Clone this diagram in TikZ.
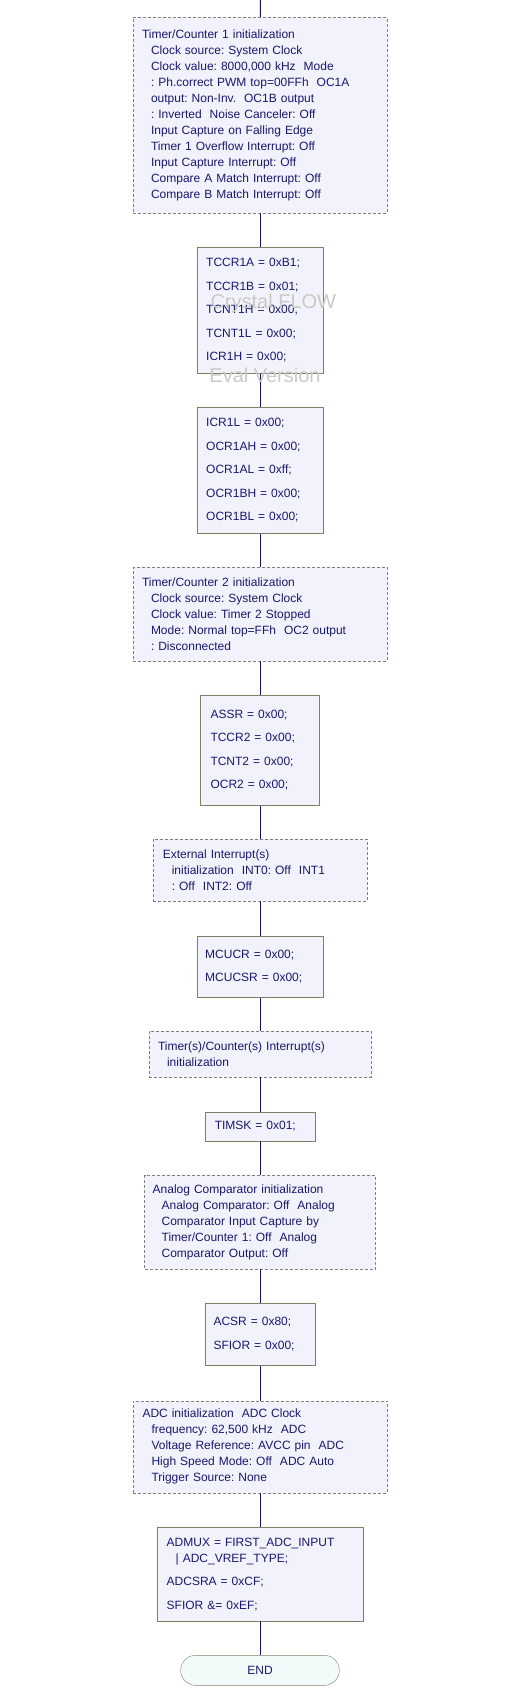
\documentclass[tikz,border=0pt]{standalone}
\usepackage{fontspec}
\setmainfont{Liberation Sans}
\definecolor{boxfill}{RGB}{242,242,252}
\definecolor{endfill}{RGB}{242,250,250}
\definecolor{dashgray}{RGB}{128,128,128}
\definecolor{boxolive}{RGB}{128,128,104}
\definecolor{textnavy}{RGB}{24,24,112}
\definecolor{linenavy}{RGB}{16,16,100}
\definecolor{markgray}{RGB}{204,200,196}
\newcommand{\tabin}{\hspace*{9pt}}
\begin{document}
\frenchspacing
\begin{tikzpicture}[x=1pt,y=-1pt,
    flowline/.style={draw=linenavy, line width=1pt},
    infobox/.style={draw=dashgray, dash pattern=on 3pt off 2pt, fill=boxfill,
        text=textnavy, align=left, inner xsep=9pt, inner ysep=0pt,
        font=\fontsize{12}{16}\selectfont\frenchspacing},
    codebox/.style={draw=boxolive, fill=boxfill, text=textnavy, align=left,
        inner xsep=9pt, inner ysep=0pt, font=\fontsize{12}{16}\selectfont\frenchspacing},
    endbox/.style={draw=boxolive, fill=endfill, text=textnavy, rounded corners=15pt,
        minimum width=158.7pt, minimum height=30pt, font=\fontsize{12}{16}\selectfont},
    watermark/.style={text=markgray, font=\fontsize{20}{24}\selectfont}]
    \useasboundingbox (0,0) rectangle (519,1700);
    \coordinate (start) at (260.5,0);

    % timer 1
    \node[infobox, minimum width=254pt, minimum height=195.4pt, text width=236pt]
        (t1info) at (260,115) {Timer/Counter 1 initialization\\
        \tabin Clock source: System Clock\\
        \tabin Clock value: 8000,000 kHz~ Mode\\
        \tabin : Ph.correct PWM top=00FFh~ OC1A\\
        \tabin output: Non-Inv.~ OC1B output\\
        \tabin : Inverted~ Noise Canceler: Off\\
        \tabin Input Capture on Falling Edge\\
        \tabin Timer 1 Overflow Interrupt: Off\\
        \tabin Input Capture Interrupt: Off\\
        \tabin Compare A Match Interrupt: Off\\
        \tabin Compare B Match Interrupt: Off};
    \node[codebox, minimum width=125.6pt, minimum height=126pt, text width=107.6pt]
        (t1regA) at (260,310.3) {TCCR1A = 0xB1;\\[7.5pt] TCCR1B = 0x01;\\[7.5pt]
        TCNT1H = 0x00;\\[7.5pt] TCNT1L = 0x00;\\[7.5pt] ICR1H = 0x00;};
    \node[codebox, minimum width=125.6pt, minimum height=126pt, text width=107.6pt]
        (t1regB) at (260,470.3) {ICR1L = 0x00;\\[7.5pt] OCR1AH = 0x00;\\[7.5pt]
        OCR1AL = 0xff;\\[7.5pt] OCR1BH = 0x00;\\[7.5pt] OCR1BL = 0x00;};

    % timer 2
    \node[infobox, minimum width=254pt, minimum height=93.7pt, text width=236pt]
        (t2info) at (260,614.2) {Timer/Counter 2 initialization\\
        \tabin Clock source: System Clock\\
        \tabin Clock value: Timer 2 Stopped\\
        \tabin Mode: Normal top=FFh~ OC2 output\\
        \tabin : Disconnected};
    \node[codebox, minimum width=118.4pt, minimum height=110pt, text width=99pt,
        inner xsep=10pt] (t2reg) at (260,750.3) {ASSR = 0x00;\\[7.5pt]
        TCCR2 = 0x00;\\[7.5pt] TCNT2 = 0x00;\\[7.5pt] OCR2 = 0x00;};

    % external interrupts
    \node[infobox, minimum width=214.4pt, minimum height=61.4pt, text width=194.4pt,
        inner xsep=10pt] (extint) at (260,870) {External Interrupt(s)\\
        \tabin initialization~ INT0: Off~ INT1\\
        \tabin : Off~ INT2: Off};
    \node[codebox, minimum width=125.6pt, minimum height=61.6pt, text width=109.6pt,
        inner xsep=8pt] (mcureg) at (260,966.5) {MCUCR = 0x00;\\[7.5pt] MCUCSR = 0x00;};

    % timer interrupts
    \node[infobox, minimum width=222pt, minimum height=46pt, text width=204pt]
        (timint) at (260,1054) {Timer(s)/Counter(s) Interrupt(s)\\
        \tabin initialization};
    \node[codebox, minimum width=109.6pt, minimum height=29.3pt, text width=90.4pt,
        inner xsep=9.6pt] (timsk) at (260,1126.4) {TIMSK = 0x01;};

    % analog comparator
    \node[infobox, minimum width=230.7pt, minimum height=93.7pt, text width=214.7pt,
        inner xsep=8pt] (acinfo) at (260,1222.2) {Analog Comparator initialization\\
        \tabin Analog Comparator: Off~ Analog\\
        \tabin Comparator Input Capture by\\
        \tabin Timer/Counter 1: Off~ Analog\\
        \tabin Comparator Output: Off};
    \node[codebox, minimum width=109.6pt, minimum height=62pt, text width=93pt,
        inner xsep=8.3pt] (acreg) at (260,1334.3) {ACSR = 0x80;\\[7.5pt] SFIOR = 0x00;};

    % adc
    \node[infobox, minimum width=254.4pt, minimum height=92pt, text width=235pt,
        inner xsep=9.7pt] (adcinfo) at (260,1446.7) {ADC initialization~ ADC Clock\\
        \tabin frequency: 62,500 kHz~ ADC\\
        \tabin Voltage Reference: AVCC pin~ ADC\\
        \tabin High Speed Mode: Off~ ADC Auto\\
        \tabin Trigger Source: None};
    \node[codebox, minimum width=206pt, minimum height=93.3pt, text width=186.6pt,
        inner xsep=9.7pt] (adcreg) at (260,1574.3) {ADMUX = FIRST\_ADC\_INPUT\\
        \tabin | ADC\_VREF\_TYPE;\\[7.5pt] ADCSRA = 0xCF;\\[7.5pt] SFIOR \&= 0xEF;};

    \node[endbox] (finish) at (260,1670.3) {END};

    % connectors
    \foreach \a/\b in {start/t1info, t1info/t1regA, t1regA/t1regB, t1regB/t2info,
        t2info/t2reg, t2reg/extint, extint/mcureg, mcureg/timint, timint/timsk,
        timsk/acinfo, acinfo/acreg, acreg/adcinfo, adcinfo/adcreg, adcreg/finish}
        \draw[flowline] (\a) -- (\b);

    % evaluation stamp
    \node[watermark] (markA) at (273.3,303) {Crystal FLOW};
    \node[watermark] (markB) at (265,375) {Eval Version};
\end{tikzpicture}
\end{document}
